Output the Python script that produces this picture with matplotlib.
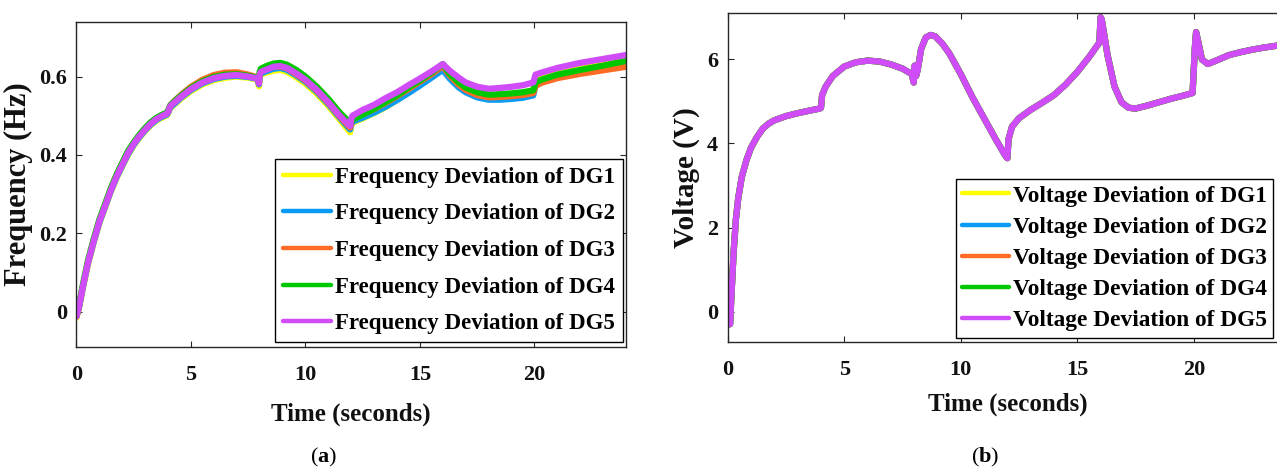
import matplotlib
matplotlib.use('Agg')
import matplotlib.pyplot as plt

# ---------------- data ----------------
time_ticks = [0, 5, 10, 15, 20]
time_ticklabels = ['0', '5', '10', '15', '20']
freq_ticks = [0, 0.2, 0.4, 0.6]
freq_ticklabels = ['0', '0.2', '0.4', '0.6']
volt_ticks = [0, 2, 4, 6]
volt_ticklabels = ['0', '2', '4', '6']

freq_labels = ['Frequency Deviation of DG1', 'Frequency Deviation of DG2',
               'Frequency Deviation of DG3', 'Frequency Deviation of DG4',
               'Frequency Deviation of DG5']
volt_labels = ['Voltage Deviation of DG1', 'Voltage Deviation of DG2',
               'Voltage Deviation of DG3', 'Voltage Deviation of DG4',
               'Voltage Deviation of DG5']

t_freq = [0, 0.1, 0.3, 0.5, 0.75, 1, 1.25, 1.5, 1.75, 2, 2.25, 2.5, 2.75, 3, 3.25,
          3.5, 3.75, 3.95, 4.0, 4.1, 4.3, 4.6, 5, 5.5, 6, 6.5, 7, 7.5, 7.9, 7.97,
          8.0, 8.05, 8.3, 8.6, 8.9, 9.2, 9.6, 10, 10.5, 11, 11.5, 11.95, 12.0, 12.05,
          12.5, 13, 13.5, 14, 14.5, 15, 15.5, 16.0, 16.3, 16.7, 17, 17.5, 18, 18.5,
          19, 19.5, 19.95, 20.05, 20.3, 21, 22, 23, 24]

f_dg1 = [-0.015, 0.006, 0.066, 0.12, 0.176, 0.226, 0.266, 0.306, 0.341, 0.371, 0.4, 0.424,
         0.444, 0.461, 0.476, 0.488, 0.496, 0.501, 0.506, 0.52, 0.53, 0.545, 0.563, 0.58,
         0.591, 0.597, 0.6, 0.597, 0.592, 0.575,
         0.6, 0.605, 0.61, 0.615, 0.617, 0.612, 0.598, 0.582, 0.556, 0.525, 0.49, 0.458,
         0.475, 0.482, 0.493, 0.507, 0.522, 0.54, 0.56, 0.578, 0.6, 0.62, 0.6, 0.578,
         0.566, 0.556, 0.552, 0.553, 0.556, 0.559, 0.565, 0.59, 0.6, 0.612, 0.625, 0.635,
         0.645]
f_dg2 = [-0.012, 0.008, 0.068, 0.123, 0.178, 0.228, 0.268, 0.308, 0.343, 0.373, 0.402, 0.426,
         0.446, 0.463, 0.478, 0.49, 0.498, 0.503, 0.508, 0.522, 0.532, 0.548, 0.566, 0.583,
         0.594, 0.6, 0.602, 0.599, 0.594, 0.58,
         0.603, 0.608, 0.614, 0.62, 0.622, 0.617, 0.603, 0.587, 0.561, 0.53, 0.495, 0.465,
         0.478, 0.485, 0.495, 0.508, 0.523, 0.54, 0.558, 0.577, 0.597, 0.617, 0.595, 0.572,
         0.56, 0.547, 0.541, 0.541, 0.543, 0.546, 0.552, 0.578, 0.588, 0.602, 0.614, 0.624,
         0.634]
f_dg3 = [-0.012, 0.012, 0.072, 0.127, 0.183, 0.233, 0.273, 0.313, 0.348, 0.378, 0.407, 0.43,
         0.45, 0.467, 0.482, 0.494, 0.502, 0.507, 0.512, 0.527, 0.539, 0.555, 0.574, 0.592,
         0.604, 0.61, 0.611, 0.605, 0.598, 0.585,
         0.607, 0.613, 0.619, 0.625, 0.626, 0.621, 0.606, 0.59, 0.564, 0.533, 0.498, 0.47,
         0.484, 0.492, 0.504, 0.517, 0.533, 0.55, 0.568, 0.587, 0.606, 0.627, 0.603, 0.579,
         0.566, 0.553, 0.547, 0.548, 0.55, 0.553, 0.558, 0.576, 0.584, 0.596, 0.607, 0.616,
         0.625]
f_dg4 = [-0.01, 0.014, 0.075, 0.13, 0.185, 0.235, 0.275, 0.315, 0.35, 0.38, 0.41, 0.432,
         0.452, 0.469, 0.484, 0.495, 0.503, 0.508, 0.513, 0.527, 0.538, 0.553, 0.571, 0.588,
         0.599, 0.605, 0.606, 0.602, 0.597, 0.585,
         0.612, 0.62, 0.627, 0.633, 0.635, 0.63, 0.617, 0.6, 0.574, 0.543, 0.508, 0.482,
         0.485, 0.49, 0.503, 0.518, 0.535, 0.552, 0.572, 0.59, 0.61, 0.632, 0.607, 0.585,
         0.572, 0.56, 0.554, 0.555, 0.557, 0.56, 0.565, 0.585, 0.592, 0.605, 0.617, 0.628,
         0.64]
f_dg5 = [-0.012, 0.01, 0.07, 0.125, 0.18, 0.23, 0.27, 0.31, 0.345, 0.375, 0.405, 0.428,
         0.448, 0.465, 0.48, 0.492, 0.5, 0.505, 0.51, 0.525, 0.535, 0.55, 0.568, 0.585,
         0.596, 0.602, 0.604, 0.6, 0.595, 0.582,
         0.605, 0.612, 0.618, 0.625, 0.627, 0.622, 0.608, 0.592, 0.566, 0.535, 0.5, 0.474,
         0.49, 0.5, 0.515, 0.528, 0.545, 0.56, 0.578, 0.595, 0.613, 0.632, 0.615, 0.597,
         0.585, 0.574, 0.569, 0.571, 0.574, 0.578, 0.585, 0.605, 0.61, 0.622, 0.635, 0.645,
         0.655]

t_volt = [0, 0.05, 0.1, 0.15, 0.25, 0.35, 0.45, 0.6, 0.8, 1.0, 1.25, 1.5, 1.75, 2.0, 2.5,
          3.0, 3.5, 3.95, 4.0, 4.05, 4.2, 4.5, 5.0, 5.5, 6.0, 6.5, 7.0, 7.5, 7.9, 7.98,
          8.02, 8.08, 8.15, 8.3, 8.5, 8.7, 8.9, 9.2, 9.5, 10.0, 10.5, 11.0, 11.5, 11.9,
          12.0, 12.05, 12.2, 12.5, 13.0, 13.5, 14.0, 14.5, 15.0, 15.5, 15.95, 16.0, 16.05,
          16.3, 16.6, 16.9, 17.2, 17.5, 18.0, 18.5, 19.0, 19.5, 19.95, 20.05, 20.1, 20.2,
          20.35, 20.6, 21.0, 21.5, 22.0, 22.5, 23.0, 23.5, 24.0]
# all five DG voltage deviations coincide in the figure (DG5 drawn on top)
v_common = [0.0, -0.3, -0.3, 0.3, 1.4, 2.2, 2.7, 3.2, 3.6, 3.9, 4.15, 4.35, 4.47, 4.55, 4.65,
            4.72, 4.78, 4.83, 4.85, 5.15, 5.35, 5.6, 5.83, 5.93, 5.97, 5.95, 5.88, 5.78, 5.65,
            5.45, 5.85, 5.6, 5.75, 6.25, 6.52, 6.58, 6.55, 6.38, 6.15, 5.65, 5.1, 4.6, 4.1,
            3.72, 3.65, 4.1, 4.4, 4.6, 4.8, 4.97, 5.15, 5.4, 5.7, 6.05, 6.4, 7.0, 6.95, 6.1,
            5.35, 4.98, 4.85, 4.83, 4.9, 4.98, 5.06, 5.13, 5.2, 6.3, 6.65, 6.4, 6.0, 5.89,
            5.98, 6.1, 6.17, 6.23, 6.28, 6.32, 6.36]
v_dg1 = v_common
v_dg2 = v_common
v_dg3 = v_common
v_dg4 = v_common
v_dg5 = v_common

colors = ['#FFFF00', '#0A9BF5', '#FF6A24', '#00C800', '#D04CF8']

# ---------------- style ----------------
plt.rcParams['font.family'] = ['Liberation Serif', 'DejaVu Serif']
plt.rcParams['font.weight'] = 'bold'
plt.rcParams['mathtext.fontset'] = 'custom'
plt.rcParams['mathtext.rm'] = 'Liberation Serif'
plt.rcParams['mathtext.bf'] = 'Liberation Serif:bold'

fig = plt.figure(figsize=(12.77, 4.69), dpi=100)
ax1 = fig.add_axes([0.0599, 0.2601, 0.4303, 0.6936])
ax2 = fig.add_axes([0.5699, 0.2702, 0.4379, 0.7027])

LW = 4.5
for ys, c, lab in zip([f_dg1, f_dg2, f_dg3, f_dg4, f_dg5], colors, freq_labels):
    ax1.plot(t_freq, ys, color=c, lw=LW, label=lab, solid_capstyle='round')
for ys, c, lab in zip([v_dg1, v_dg2, v_dg3, v_dg4, v_dg5], colors, volt_labels):
    ax2.plot(t_volt, ys, color=c, lw=LW, label=lab, solid_capstyle='round')


def style(ax):
    for s in ax.spines.values():
        s.set_color('#262626')
        s.set_linewidth(1.0)
    ax.tick_params(direction='in', length=4, width=0.8, top=True, right=True,
                   labelsize=16, colors='#262626', labelcolor='#111111')
    ax.tick_params(axis='y', pad=7)
    ax.tick_params(axis='x', pad=13)
    ax.set_xlim(0, 24)
    ax.set_xticks(time_ticks)
    ax.set_xticklabels(time_ticklabels, fontweight='bold')


style(ax1)
style(ax2)

ax1.set_ylim(-0.09, 0.74)
ax1.set_yticks(freq_ticks)
ax1.set_yticklabels(freq_ticklabels, fontweight='bold')
ax2.set_ylim(-0.73, 7.11)
ax2.set_yticks(volt_ticks)
ax2.set_yticklabels(volt_ticklabels, fontweight='bold')

ax1.set_ylabel('Frequency (Hz)', fontsize=22, fontweight='bold', color='#111111')
ax1.yaxis.set_label_coords(-0.079, 0.5)
ax1.set_xlabel('Time (seconds)', fontsize=18, fontweight='bold', color='#111111')
ax1.xaxis.set_label_coords(0.5, -0.172)

ax2.set_ylabel('Voltage (V)', fontsize=21, fontweight='bold', color='#111111')
ax2.yaxis.set_label_coords(-0.05, 0.5)
ax2.set_xlabel('Time (seconds)', fontsize=18, fontweight='bold', color='#111111')
ax2.xaxis.set_label_coords(0.5, -0.154)

leg1 = ax1.legend(loc='lower right', bbox_to_anchor=(0.994, 0.015), borderaxespad=0,
                  prop={'size': 16.5, 'weight': 'bold'}, fancybox=False, edgecolor='black',
                  framealpha=1, labelspacing=0.68, borderpad=0.34, handlelength=2.1,
                  handletextpad=0.17)
leg1.get_frame().set_linewidth(1.0)
for ln in leg1.get_lines():
    ln.set_linewidth(3.2)

leg2 = ax2.legend(loc='lower left', bbox_to_anchor=(0.408, 0.014), borderaxespad=0,
                  prop={'size': 16.8, 'weight': 'bold'}, fancybox=False, edgecolor='black',
                  framealpha=1, labelspacing=0.42, borderpad=0.28, handlelength=2.0,
                  handletextpad=0.16)
leg2.get_frame().set_linewidth(1.0)
for ln in leg2.get_lines():
    ln.set_linewidth(3.2)

fig.text(0.2537, 0.0256, r'($\mathbf{a}$)', ha='center', va='center', fontsize=16,
         fontweight='normal')
fig.text(0.7717, 0.0256, r'($\mathbf{b}$)', ha='center', va='center', fontsize=16,
         fontweight='normal')

fig.savefig('out.png', dpi=100)
